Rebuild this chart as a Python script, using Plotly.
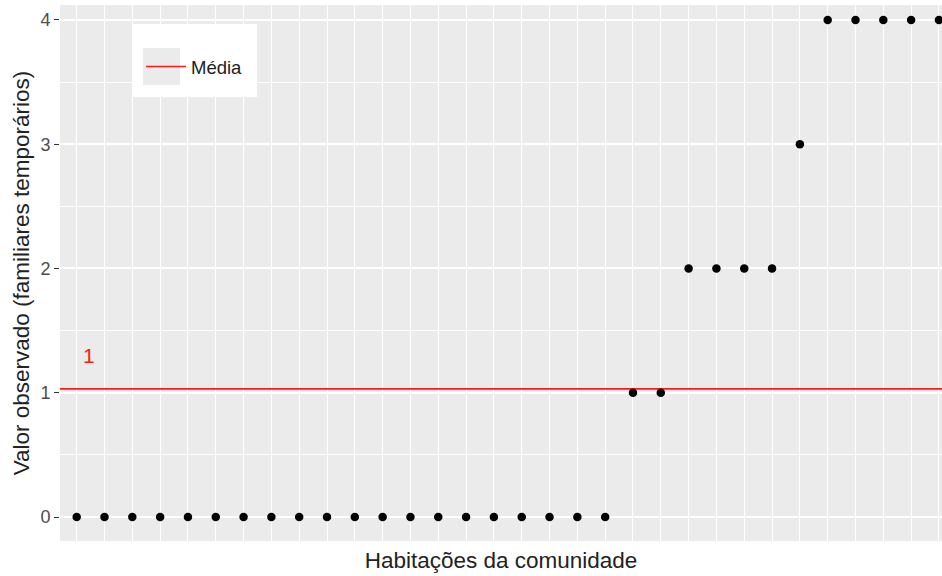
import plotly.graph_objects as go

habitacoes = list(range(1, 33))
valores = [0]*20 + [1, 1] + [2, 2, 2, 2] + [3] + [4, 4, 4, 4, 4]
media = sum(valores) / len(valores)
y_ticks = [0, 1, 2, 3, 4]

L, R, T, B = 60, 0, 5, 35
PW, PH = 942 - L - R, 576 - T - B


def px_x(x):
    return (x - L) / PW


def px_y(y):
    return (576 - B - y) / PH


fig = go.Figure()
fig.add_trace(go.Scatter(
    x=[0.4, 32.2], y=[media, media], mode="lines",
    line=dict(color="#FF1A1A", width=1.6), name="Média", showlegend=True,
    hoverinfo="skip"))
fig.add_trace(go.Scatter(
    x=habitacoes, y=valores, mode="markers",
    marker=dict(color="black", size=8.5), showlegend=False))

fig.add_annotation(x=1.43, y=media + 0.27, text="1", showarrow=False,
                   font=dict(color="#FF1A1A", size=21, family="Liberation Sans"))

# legend box (ggplot style)
fig.add_shape(type="rect", xref="paper", yref="paper",
              x0=px_x(133), x1=px_x(257), y0=px_y(97), y1=px_y(24),
              fillcolor="white", line=dict(width=0), layer="above")
fig.add_shape(type="rect", xref="paper", yref="paper",
              x0=px_x(143), x1=px_x(180), y0=px_y(85), y1=px_y(48),
              fillcolor="#EBEBEB", line=dict(width=0), layer="above")

fig.update_layout(
    width=942, height=576,
    margin=dict(l=L, r=R, t=T, b=B, autoexpand=False),
    paper_bgcolor="white", plot_bgcolor="#EBEBEB",
    font=dict(family="Liberation Sans", color="#222222"),
    legend=dict(x=px_x(141), y=px_y(48), xanchor="left", yanchor="top",
                bgcolor="rgba(0,0,0,0)", font=dict(size=18.5, color="#222222"),
                itemwidth=40, tracegroupgap=0),
    xaxis=dict(range=[0.4, 32.11], tickvals=habitacoes, showticklabels=False,
               ticks="", showgrid=True, gridcolor="white", gridwidth=1.4,
               zeroline=False, showline=False, automargin=False,
               title=dict(text="Habitações da comunidade", font=dict(size=22.5, color="#222222"),
                          standoff=11)),
    yaxis=dict(range=[-0.193, 4.12], tickvals=y_ticks, ticktext=[str(v) for v in y_ticks],
               ticks="outside", ticklen=5, tickcolor="#333333", tickwidth=1.2,
               tickfont=dict(size=18, color="#4D4D4D"),
               showgrid=True, gridcolor="white", gridwidth=1.8,
               minor=dict(dtick=0.5, showgrid=True, gridcolor="white", gridwidth=0.9, ticks=""),
               zeroline=False, showline=False, automargin=False,
               title=dict(text="Valor observado (familiares temporários)",
                          font=dict(size=22.5, color="#222222"), standoff=4)),
)

fig.write_html("out.html", config={"displayModeBar": False},
               post_script="document.body.style.margin='0';document.body.style.overflow='hidden';")
